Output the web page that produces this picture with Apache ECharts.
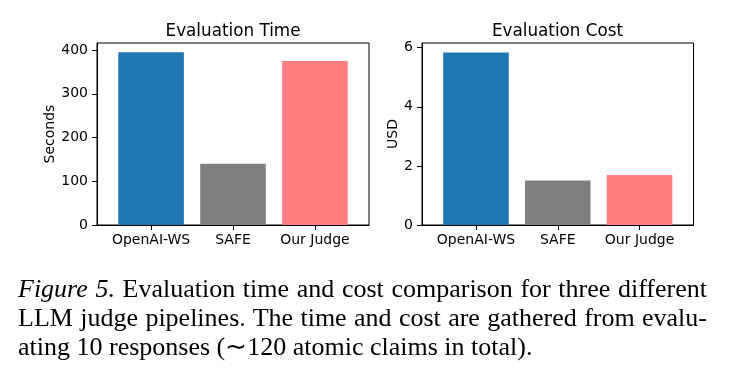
<!DOCTYPE html>
<html>
<head>
<meta charset="utf-8">
<script src="https://cdn.jsdelivr.net/npm/echarts@6/dist/echarts.min.js"></script>
<style>
  html, body { margin: 0; padding: 0; background: #fff; }
  #wrap { position: relative; width: 739px; height: 380px; }
  #chart { position: absolute; left: 0; top: 0; width: 739px; height: 380px; }
  #caption {
    position: absolute; left: 18px; top: 274px; width: 689px;
    font-family: 'Liberation Serif', serif; font-size: 26px; line-height: 29px; color: #000;
  }
  #caption .ln { white-space: nowrap; text-align: justify; text-align-last: justify; }
  #caption .ln.last { text-align-last: left; }
</style>
</head>
<body>
<div id="wrap">
  <div id="chart"></div>
  <div id="caption">
    <div class="ln"><i>Figure 5.</i> Evaluation time and cost comparison for three different</div>
    <div class="ln">LLM judge pipelines. The time and cost are gathered from evalu-</div>
    <div class="ln last">ating 10 responses (∼120 atomic claims in total).</div>
  </div>
</div>
<script>
// 数据
var categories = ['OpenAI-WS', 'SAFE', 'Our Judge'];
var timeValues = [395, 140, 375];
var costValues = [5.84, 1.51, 1.69];
var timeTicks = [0, 100, 200, 300, 400];
var costTicks = [0, 2, 4, 6];

var barColors = ['#1f77b4', '#7f7f7f', '#ff7f7f'];
var font = 'DejaVu Sans';

var myChart = echarts.init(document.getElementById('chart'));

function xAxisFor(gridIndex) {
  return {
    gridIndex: gridIndex,
    type: 'value',
    min: -0.66,
    max: 2.66,
    z: 5,
    splitLine: { show: false },
    axisLine: { show: true, onZero: false, lineStyle: { color: '#000', width: 1 } },
    axisTick: { show: true, length: 5, lineStyle: { color: '#000' }, customValues: [0, 1, 2] },
    axisLabel: {
      customValues: [0, 1, 2],
      margin: 8,
      color: '#000',
      fontFamily: font,
      fontSize: 14,
      formatter: function (v) { return categories[Math.round(v)]; }
    }
  };
}

function yAxisFor(gridIndex, max, ticks, name, gap) {
  return {
    gridIndex: gridIndex,
    type: 'value',
    min: 0,
    max: max,
    z: 5,
    name: name,
    nameLocation: 'middle',
    nameGap: gap,
    nameTextStyle: { color: '#000', fontFamily: font, fontSize: 14 },
    splitLine: { show: false },
    axisLine: { show: true, onZero: false, lineStyle: { color: '#000', width: 1 } },
    axisTick: { show: true, length: 5, lineStyle: { color: '#000' }, customValues: ticks },
    axisLabel: { customValues: ticks, margin: 9, color: '#000', fontFamily: font, fontSize: 14 }
  };
}

function barSeries(idx, values) {
  return {
    type: 'bar',
    xAxisIndex: idx,
    yAxisIndex: idx,
    barWidth: 65.6,
    data: values.map(function (v, i) {
      return { value: [i, v], itemStyle: { color: barColors[i] } };
    })
  };
}

var options = {
  animation: false,
  title: [
    { text: 'Evaluation Time', left: 233, top: 23, padding: 0, textAlign: 'center',
      textStyle: { fontFamily: font, fontSize: 16.8, fontWeight: 'normal', color: '#000' } },
    { text: 'Evaluation Cost', left: 557.5, top: 23, padding: 0, textAlign: 'center',
      textStyle: { fontFamily: font, fontSize: 16.8, fontWeight: 'normal', color: '#000' } }
  ],
  grid: [
    { left: 97, top: 43, width: 272, height: 182, show: true, borderColor: '#000', borderWidth: 1 },
    { left: 422, top: 43, width: 271.5, height: 182, show: true, borderColor: '#000', borderWidth: 1 }
  ],
  xAxis: [xAxisFor(0), xAxisFor(1)],
  yAxis: [
    yAxisFor(0, 416, timeTicks, 'Seconds', 40),
    yAxisFor(1, 6.16, costTicks, 'USD', 21)
  ],
  series: [barSeries(0, timeValues), barSeries(1, costValues)]
};
myChart.setOption(options, true);
</script>
</body>
</html>
